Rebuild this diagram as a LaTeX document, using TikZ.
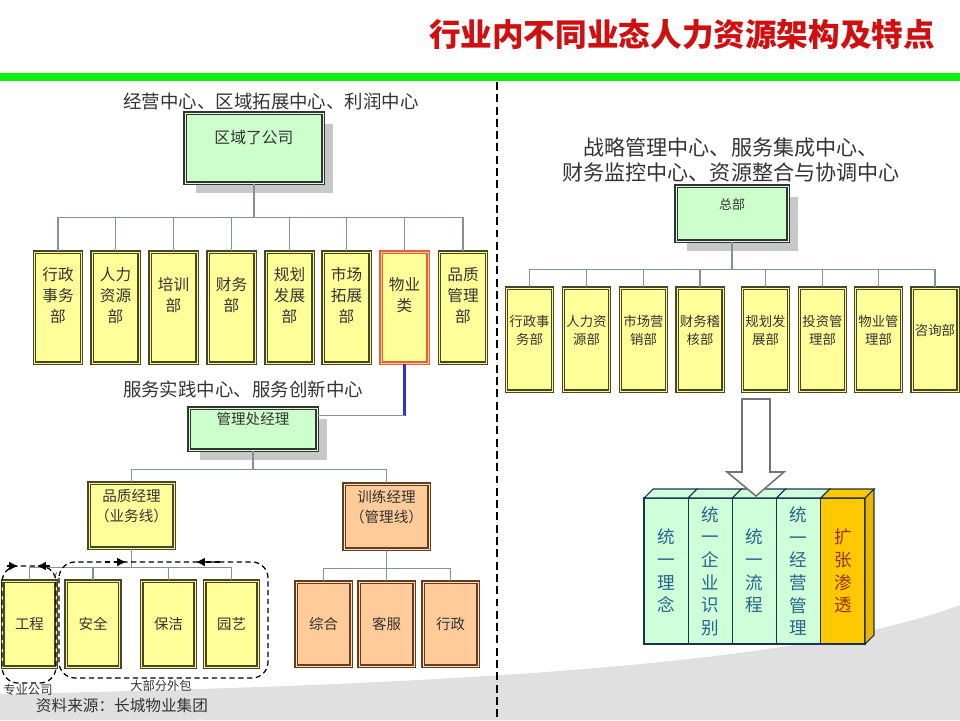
\documentclass[tikz,border=0pt]{standalone}
\usepackage{fontspec}
\setmainfont{Noto Sans CJK SC}
\usepackage{xcolor}
\usepackage{tikz}
\usetikzlibrary{arrows.meta, shadows, positioning, calc}

\newcommand\setfs[2]{\fontsize{#1}{#2}\selectfont}

\definecolor{titleRed}{RGB}{208,16,16}
\definecolor{barGreen}{RGB}{16,240,16}
\definecolor{bgGray}{RGB}{224,224,224}
\definecolor{boxGreen}{RGB}{204,255,204}
\definecolor{boxYellow}{RGB}{255,255,153}
\definecolor{boxOrange}{RGB}{255,204,153}
\definecolor{edgeOlive}{RGB}{70,70,40}
\definecolor{edgeBrown}{RGB}{100,60,30}
\definecolor{edgeRed}{RGB}{230,95,55}
\definecolor{lineGray}{RGB}{130,145,160}
\definecolor{blueLn}{RGB}{50,50,200}
\definecolor{shadowGray}{RGB}{200,200,200}
\definecolor{colGreen}{RGB}{206,255,216}
\definecolor{colGold}{RGB}{255,200,0}
\definecolor{colGoldDk}{RGB}{235,180,0}
\definecolor{colEdge}{RGB}{26,50,80}
\definecolor{colBlue}{RGB}{40,100,140}
\definecolor{colBrown}{RGB}{150,50,0}

\begin{document}
\begin{tikzpicture}[x=0.02cm, y=-0.02cm,
  conn/.style={draw=lineGray, line width=0.6pt},
  gbox/.style={draw=black!80, double=green!15, double distance=0.5pt, line width=0.75pt,
    fill=boxGreen, inner sep=0pt,
    general shadow={fill=shadowGray, shadow xshift=0.21cm, shadow yshift=-0.21cm}},
  ybox/.style={draw=edgeOlive, double=yellow!45, double distance=0.5pt, line width=0.75pt,
    fill=boxYellow, inner sep=0pt},
  obox/.style={draw=edgeBrown, double=orange!25, double distance=0.5pt, line width=0.75pt,
    fill=boxOrange, inner sep=0pt},
  lab/.style={anchor=center, text=black!80, align=center},
  grp/.style={dash pattern=on 3pt off 2pt, line width=0.7pt, rounded corners=0.32cm},
  colface/.style={draw=colEdge, line width=0.6pt}]
  \useasboundingbox (0,0) rectangle (960,720);

  % background
  \fill[bgGray] (0,694) .. controls (450,685) and (800,665) .. (960,605)
    -- (960,720) -- (0,720) -- cycle;

  % title
  \node[text=titleRed, font=\setfs{18}{20}\bfseries] (title) at (682,34)
    {行业内不同业态人力资源架构及特点};
  \draw[barGreen, line width=4pt] (0,77) -- (960,77);
  \draw[line width=1.1pt, dash pattern=on 4.5pt off 2.5pt] (497,82) -- (497,720);

  % left: regional company
  \node[lab, font=\setfs{10.5}{12}] (lblA) at (271,101) {经营中心、区域拓展中心、利润中心};
  \node[gbox, minimum width=2.76cm, minimum height=1.4cm,
    label={[lab, font=\setfs{9}{11}, yshift=-0.5cm]north:区域了公司}] (sub) at (254,148) {};

  \foreach \i/\x/\bc/\dc/\txt in {1/58/edgeOlive/yellow!45/{行政\\事务\\部},
      2/115.5/edgeOlive/yellow!45/{人力\\资源\\部}, 3/173.5/edgeOlive/yellow!45/{培训\\部},
      4/231.5/edgeOlive/yellow!45/{财务\\部}, 5/289.5/edgeOlive/yellow!45/{规划\\发展\\部},
      6/346.5/edgeOlive/yellow!45/{市场\\拓展\\部}, 7/404.5/edgeRed/orange!35/{物业\\类},
      8/463/edgeOlive/yellow!45/{品质\\管理\\部}} {
    \node[ybox, draw=\bc, double=\dc, minimum width=0.94cm, minimum height=2.22cm,
      label={[lab, font=\setfs{8.9}{11.9}, yshift=-0.88cm]north:{\txt}}] (d\i) at (\x,307.5) {};
    \draw[conn] (sub.south) -- ++(0,34) -| (d\i.north);
  }

  \node[lab, font=\setfs{10.5}{12}] (lblB) at (243,389) {服务实践中心、服务创新中心};
  \node[gbox, minimum width=2.56cm, minimum height=0.84cm,
    label={[lab, font=\setfs{8.3}{10}, yshift=-0.24cm]north:管理处经理}] (mgr) at (253,429) {};
  \draw[blueLn, line width=1.4pt] (d7.south) -- ++(0,52) coordinate (kink);
  \draw[conn] (kink) -- (kink -| mgr.east);

  \node[ybox, minimum width=1.7cm, minimum height=1.3cm,
    label={[lab, font=\setfs{8.3}{11.3}, yshift=-0.48cm]north:{品质经理\\（业务线）}}] (qm) at (131.5,515.5) {};
  \node[obox, minimum width=1.7cm, minimum height=1.3cm,
    label={[lab, font=\setfs{8.3}{11.3}, yshift=-0.48cm]north:{训练经理\\（管理线）}}] (tm) at (386.5,516.5) {};
  \foreach \n in {qm,tm}
    \draw[conn] (mgr.south) -- ++(0,19) -| (\n.north);

  \foreach \n/\x/\txt in {gc/29.5/工程, aq/93/安全, bj/168.5/保洁, yy/231.5/园艺} {
    \node[ybox, text=black!80, font=\setfs{8.2}{10}, minimum width=1.07cm, minimum height=1.72cm]
      (\n) at (\x,624) {\txt};
    \draw[conn] (qm.south) -- ++(0,19) -| (\n.north);
  }
  \foreach \n/\x/\txt in {zh/323.5/综合, kf/386.5/客服, xz/450.5/行政} {
    \node[obox, text=black!80, font=\setfs{8.2}{10}, minimum width=1.1cm, minimum height=1.68cm]
      (\n) at (\x,624) {\txt};
    \draw[conn] (tm.south) -- ++(0,19) -| (\n.north);
  }

  % outsourcing groups
  \draw[grp] (2,566) rectangle (56,683);
  \draw[grp] (59,562) rectangle (268,678);
  \draw[grp, -{Latex[length=5pt, width=5pt]}] (7,566) -- (18,566);
  \draw[grp, -{Latex[length=5pt, width=5pt]}] (50,566) -- (37,566);
  \draw[grp, -{Latex[length=5pt, width=5pt]}] (105,562) -- (126,562);
  \draw[grp, -{Latex[length=5pt, width=5pt]}] (220,562) -- (196,562);
  \node[font=\setfs{5}{6}, text=black!80] (vmark) at (55,575) {v};

  \node[text=black!80, font=\setfs{7}{8}] (spec) at (28,690) {专业公司};
  \node[text=black!80, font=\setfs{7}{8}] (outs) at (161,686) {大部分外包};
  \node[text=black!80, font=\setfs{8.9}{10}] (src) at (122,706) {资料来源：长城物业集团};

  % right: headquarters
  \node[lab, font=\setfs{12}{14.7}] (lblC) at (731,160)
    {战略管理中心、服务集成中心、\\财务监控中心、资源整合与协调中心};
  \node[gbox, minimum width=2.24cm, minimum height=1.1cm,
    label={[lab, font=\setfs{7.4}{9}, yshift=-0.38cm]north:总部}] (hq) at (732,213.5) {};
  \foreach \i/\x/\txt in {1/529.5/{行政事\\务部}, 2/586.5/{人力资\\源部}, 3/643.5/{市场营\\销部},
      4/700/{财务稽\\核部}, 5/765.5/{规划发\\展部}, 6/822.5/{投资管\\理部},
      7/878.5/{物业管\\理部}, 8/935/{咨询部}} {
    \node[ybox, minimum width=0.92cm, minimum height=2.06cm,
      label={[lab, font=\setfs{7.6}{10.2}, yshift=-0.86cm]north:{\txt}}] (h\i) at (\x,339.5) {};
    \draw[conn] (hq.south) -- ++(0,28) -| (h\i.north);
  }

  % 3d columns
  \foreach \i/\fc/\tc/\txt in {0/colGreen/colBlue/{统\\一\\理\\念},
      1/colGreen/colBlue/{统\\一\\企\\业\\识\\别}, 2/colGreen/colBlue/{统\\一\\流\\程},
      3/colGreen/colBlue/{统\\一\\经\\营\\管\\理}, 4/colGold/colBrown/{扩\\张\\渗\\透}} {
    \pgfmathsetmacro\xa{644+44.2*\i}
    \pgfmathsetmacro\xb{\xa+44.2}
    \filldraw[colface, fill=\fc] (\xa,498) rectangle (\xb,644);
    \filldraw[colface, fill=\fc] (\xa,498) -- (\xa+9,489) -- (\xb+9,489) -- (\xb,498) -- cycle;
    \node[text=\tc, align=center, font=\setfs{10}{12.9}] (col\i) at ({\xa+22.1},571) {\txt};
  }
  \filldraw[colface, fill=colGoldDk] (865,498) -- (874,489) -- (874,635) -- (865,644) -- cycle;

  \draw[black!55, fill=white, line width=0.9pt] (742,399) -- (770,399) -- (770,472)
    -- (784,472) -- (756,496) -- (727,472) -- (742,472) -- cycle;
\end{tikzpicture}
\end{document}
